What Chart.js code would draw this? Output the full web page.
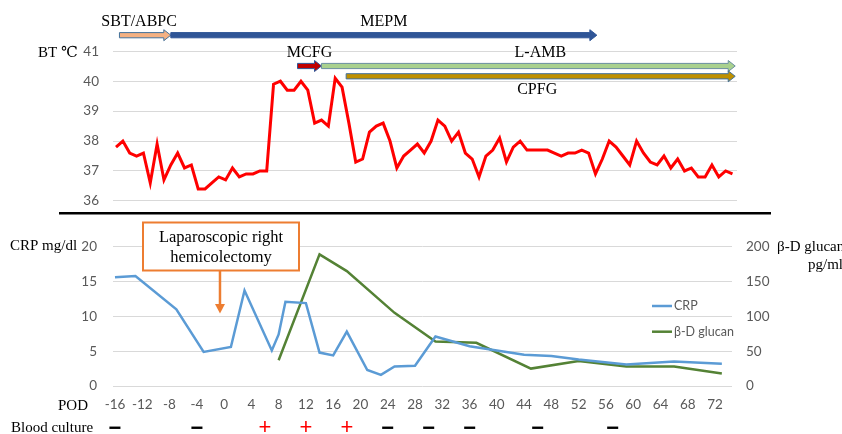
<!DOCTYPE HTML>
<html>

<head>
  <meta charset="utf-8">
  <title>BT / CRP / beta-D glucan</title>
  <script src="https://cdn.jsdelivr.net/npm/chart.js"></script>
  <style>
    body { margin: 0; background: #ffffff; }
    #wrap { position: relative; width: 842px; height: 434px; overflow: hidden; }
    #btChart { position: absolute; left: 0; top: 0; }
    #labChart { position: absolute; left: 0; top: 215px; }
  </style>
</head>

<body>
  <div id="wrap">
    <canvas id="btChart" width="842" height="223"></canvas>
    <canvas id="labChart" width="842" height="219"></canvas>
  </div>

  <script type="text/javascript">

    // body temperature, one value per POD
    var btDays = [-16, -15, -14, -13, -12, -11, -10, -9, -8, -7, -6, -5, -4, -3, -2, -1,
      0, 1, 2, 3, 4, 5, 6, 7, 8, 9, 10, 11, 12, 13, 14, 15, 16, 17, 18, 19, 20,
      21, 22, 23, 24, 25, 26, 27, 28, 29, 30, 31, 32, 33, 34, 35, 36, 37, 38, 39, 40,
      41, 42, 43, 44, 45, 46, 47, 48, 49, 50, 51, 52, 53, 54, 55, 56, 57, 58, 59, 60,
      61, 62, 63, 64, 65, 66, 67, 68, 69, 70, 71, 72, 73, 74];
    var btValues = [37.8, 38.0, 37.6, 37.5, 37.6, 36.6, 37.9, 36.7, 37.2, 37.6, 37.1, 37.2, 36.4, 36.4, 36.6, 36.8,
      36.7, 37.1, 36.8, 36.9, 36.9, 37.0, 37.0, 39.9, 40.0, 39.7, 39.7, 40.0, 39.7, 38.6, 38.7, 38.5, 40.1, 39.8, 38.6, 37.3, 37.4,
      38.3, 38.5, 38.6, 38.0, 37.1, 37.5, 37.7, 37.9, 37.6, 38.0, 38.7, 38.5, 38.0, 38.3, 37.6, 37.4, 36.8, 37.5, 37.7, 38.1,
      37.3, 37.8, 38.0, 37.7, 37.7, 37.7, 37.7, 37.6, 37.5, 37.6, 37.6, 37.7, 37.6, 36.9, 37.4, 38.0, 37.8, 37.5, 37.2, 38.0,
      37.6, 37.3, 37.2, 37.5, 37.1, 37.4, 37.0, 37.1, 36.8, 36.8, 37.2, 36.8, 37.0, 36.9];

    var crpDays = [-16, -13, -7, -3, 1, 3, 7, 8, 9, 12, 14, 16, 18, 21, 23, 25, 28, 31, 36, 44, 48, 52, 59, 66, 73];
    var crpValues = [15.6, 15.8, 11.0, 4.9, 5.6, 13.7, 5.1, 7.4, 12.1, 11.9, 4.8, 4.4, 7.8, 2.3, 1.6, 2.8, 2.9, 7.1, 5.7, 4.5, 4.3, 3.8, 3.1, 3.5, 3.2];

    var bdgDays = [8, 14, 18, 25, 31, 37, 45, 52, 59, 66, 73];
    var bdgValues = [37, 189, 165, 105, 64, 62, 25, 36, 28, 28, 18];

    var podTicks = [-16, -12, -8, -4, 0, 4, 8, 12, 16, 20, 24, 28, 32, 36, 40, 44, 48, 52, 56, 60, 64, 68, 72];

    var drugNames = ['SBT/ABPC', 'MEPM', 'MCFG', 'L-AMB', 'CPFG'];
    var drugStart = [-15.5, -8, 10.5, 14, 17.6];
    var drugEnd = [-8, 54.2, 14, 74.4, 74.4];

    var cultureDays = [-16, -4, 6, 12, 18, 24, 30, 36, 46, 57];
    var cultureResults = ['-', '-', '+', '+', '+', '-', '-', '-', '-', '-'];

    var surgeryDay = -0.6;

    Chart.defaults.font.family = 'Lato';
    Chart.defaults.font.size = 13;
    Chart.defaults.color = '#595959';

    var serif = '"Liberation Serif", "DejaVu Serif", serif';

    function toPoints(xs, ys) {
      return xs.map(function (x, i) { return { x: x, y: ys[i] }; });
    }

    function blockArrow(ctx, x1, x2, yc, h, hh, fill, stroke) {
      var hl = 7;
      ctx.beginPath();
      ctx.moveTo(x1, yc - h);
      ctx.lineTo(x2 - hl, yc - h);
      ctx.lineTo(x2 - hl, yc - hh);
      ctx.lineTo(x2, yc);
      ctx.lineTo(x2 - hl, yc + hh);
      ctx.lineTo(x2 - hl, yc + h);
      ctx.lineTo(x1, yc + h);
      ctx.closePath();
      ctx.fillStyle = fill;
      ctx.fill();
      ctx.lineWidth = 1;
      ctx.strokeStyle = stroke;
      ctx.stroke();
    }

    // drug arrows, labels and separator for the BT chart
    var drugPlugin = {
      id: 'drugPlugin',
      afterDraw: function (chart) {
        var c = chart.ctx;
        var xs = chart.scales['x'];
        var top = chart.chartArea.top;
        // row offsets from the chart top, label offsets, colours
        var barDy = [-16.1, -16.1, 14.7, 14.7, 25];
        var labelDy = [-30, -30, 1.2, 1.2, 38.7];
        var labelDx = [-6, 0, 0, 12, -3.5];
        var fills = ['#F4B183', '#2F5597', '#C00000', '#A9D18E', '#BF9000'];
        var strokes = ['#41719C', '#2F5597', '#2F5597', '#6A8FA0', '#41719C'];
        c.save();
        for (var i = 0; i < drugNames.length; i++) {
          var x1 = xs.getPixelForValue(drugStart[i]);
          var x2 = xs.getPixelForValue(drugEnd[i]);
          blockArrow(c, x1, x2, top + barDy[i], 2.6, 5.5, fills[i], strokes[i]);
        }
        c.fillStyle = '#000000';
        c.font = '16px ' + serif;
        c.textAlign = 'center';
        c.textBaseline = 'middle';
        for (var j = 0; j < drugNames.length; j++) {
          var xm = (xs.getPixelForValue(drugStart[j]) + xs.getPixelForValue(drugEnd[j])) / 2;
          c.fillText(drugNames[j], xm + labelDx[j], top + labelDy[j]);
        }
        c.font = '15px ' + serif;
        c.textAlign = 'left';
        c.fillText('BT ℃', 38, top + 2);

        c.beginPath();
        c.moveTo(59, 213.3);
        c.lineTo(771, 213.3);
        c.lineWidth = 2.5;
        c.strokeStyle = '#000000';
        c.stroke();
        c.restore();
      }
    };

    // annotation box, legend, axis titles and blood cultures for the lab chart
    var labPlugin = {
      id: 'labPlugin',
      afterDraw: function (chart) {
        var c = chart.ctx;
        var xs = chart.scales['x'];
        var area = chart.chartArea;
        c.save();

        // surgery box and arrow
        var ax = xs.getPixelForValue(surgeryDay);
        c.fillStyle = '#ffffff';
        c.fillRect(143, 7.5, 156, 48);
        c.lineWidth = 2;
        c.strokeStyle = '#ED7D31';
        c.strokeRect(143, 7.5, 156, 48);
        c.fillStyle = '#000000';
        c.font = '16.5px ' + serif;
        c.textAlign = 'center';
        c.textBaseline = 'middle';
        c.fillText('Laparoscopic right', 221, 22.7);
        c.fillText('hemicolectomy', 221, 42.7);

        c.beginPath();
        c.moveTo(ax, 55.5);
        c.lineTo(ax, 90);
        c.lineWidth = 2.5;
        c.strokeStyle = '#ED7D31';
        c.stroke();
        c.beginPath();
        c.moveTo(ax - 5, 89);
        c.lineTo(ax + 5, 89);
        c.lineTo(ax, 98.5);
        c.closePath();
        c.fillStyle = '#ED7D31';
        c.fill();

        // legend
        var legend = [['CRP', '#5B9BD5', 91], ['β-D glucan', '#548235', 116.7]];
        c.font = '12.5px Lato';
        c.textAlign = 'left';
        for (var i = 0; i < legend.length; i++) {
          c.beginPath();
          c.moveTo(652, legend[i][2]);
          c.lineTo(672, legend[i][2]);
          c.lineWidth = 2.5;
          c.strokeStyle = legend[i][1];
          c.stroke();
          c.fillStyle = '#595959';
          c.fillText(legend[i][0], 674, legend[i][2]);
        }

        // axis titles
        c.fillStyle = '#000000';
        c.font = '15px ' + serif;
        c.fillText('CRP mg/dl', 10, area.top - 0.5);
        c.fillText('β-D glucan', 777, area.top + 0.5);
        c.fillText('pg/ml', 808, area.top + 18.5);
        c.textAlign = 'center';
        c.fillText('POD', 73, 191);
        c.textAlign = 'left';
        c.fillText('Blood culture', 11, 212.7);

        // blood culture results
        c.textAlign = 'center';
        for (var k = 0; k < cultureDays.length; k++) {
          var cx = xs.getPixelForValue(cultureDays[k]);
          if (cultureResults[k] == '+') {
            c.font = '22px "Liberation Sans"';
            c.fillStyle = '#FF0000';
            c.fillText('+', cx, 213.3);
          }
          else {
            c.font = 'bold 22px "Liberation Sans"';
            c.fillStyle = '#000000';
            c.fillText('−', cx, 213.7);
          }
        }
        c.restore();
      }
    };

    var btChart = new Chart(document.getElementById('btChart'), {
      type: 'line',
      data: {
        datasets: [{
          label: 'BT',
          data: toPoints(btDays, btValues),
          borderColor: '#FF0000',
          borderWidth: 3,
          pointRadius: 0,
          tension: 0,
        }]
      },
      options: {
        responsive: false,
        animation: false,
        layout: { padding: { left: 0, right: 105, top: 51.3, bottom: 14 } },
        plugins: { legend: { display: false }, tooltip: { enabled: false } },
        scales: {
          x: { type: 'linear', min: -16.44, max: 74.66, display: false },
          y: {
            min: 36, max: 41,
            ticks: { stepSize: 1, padding: 14, font: { size: 13.5 } },
            grid: { color: '#D9D9D9', drawTicks: false },
            border: { display: false },
            afterFit: function (scale) { scale.width = 113; }
          }
        }
      },
      plugins: [drugPlugin]
    });

    var labChart = new Chart(document.getElementById('labChart'), {
      type: 'line',
      data: {
        datasets: [
          {
            label: 'CRP',
            data: toPoints(crpDays, crpValues),
            borderColor: '#5B9BD5',
            borderWidth: 2.5,
            pointRadius: 0,
            yAxisID: 'y',
          },
          {
            label: 'β-D glucan',
            data: toPoints(bdgDays, bdgValues),
            borderColor: '#548235',
            borderWidth: 2.5,
            pointRadius: 0,
            yAxisID: 'y1',
          }
        ]
      },
      options: {
        responsive: false,
        animation: false,
        layout: { padding: { left: 0, right: 0, top: 31.7, bottom: 0 } },
        plugins: { legend: { display: false }, tooltip: { enabled: false } },
        scales: {
          x: {
            type: 'linear', min: -16.29, max: 74.49,
            grid: { display: false, drawTicks: false },
            border: { display: false },
            ticks: { padding: 11, maxRotation: 0, font: { size: 13.5 } },
            afterBuildTicks: function (scale) {
              scale.ticks = podTicks.map(function (v) { return { value: v }; });
            },
            afterFit: function (scale) { scale.height = 48; }
          },
          y: {
            position: 'left',
            min: 0, max: 20,
            ticks: { stepSize: 5, padding: 16, font: { size: 13.5 } },
            grid: { color: '#D9D9D9', drawTicks: false },
            border: { display: false },
            afterFit: function (scale) { scale.width = 113; }
          },
          y1: {
            position: 'right',
            min: 0, max: 200,
            ticks: { stepSize: 50, padding: 14, font: { size: 13.5 } },
            grid: { display: false, drawTicks: false },
            border: { display: false },
            afterFit: function (scale) { scale.width = 110; }
          }
        }
      },
      plugins: [labPlugin]
    });

  </script>
</body>

</html>
